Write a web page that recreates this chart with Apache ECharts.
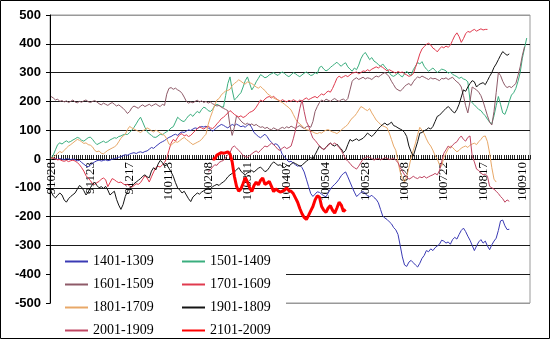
<!DOCTYPE html>
<html>
<head>
<meta charset="utf-8">
<script src="https://cdn.jsdelivr.net/npm/echarts/dist/echarts.min.js"></script>
<style>
html,body{margin:0;padding:0;background:#fff;}
#chart{width:550px;height:339px;}
</style>
</head>
<body>
<div id="chart"></div>
<script>
// Trading-day axis: weekdays from 2009-10-28, exchange holidays skipped.
const firstDay = '2009-10-28';
const dayCount = 220;
const holidays = ['2010-01-01','2010-02-15','2010-02-16','2010-02-17','2010-02-18','2010-02-19',
  '2010-04-05','2010-05-03','2010-06-14','2010-06-15','2010-06-16'];

// Spread series (start = index of first trading day with a value)
const s1401 = [
  0, 3, 1, -2, 2, -1, -3, 1, 0, -2,
  0, -3, -6, -5, -12, -18, -24, -27, -21, -15,
  -10, -6, -4, -7, -5, -3, -6, -4, -1, 1,
  3, 6, 8, 12, 15, 13, 17, 20, 22, 19,
  23, 25, 22, 26, 28, 34, 40, 37, 44, 50,
  56, 60, 64, 70, 75, 78, 83, 86, 82, 90,
  94, 92, 97, 101, 99, 104, 108, 106, 110, 113,
  111, 114, 108, 103, 97, 102, 110, 115, 120, 117,
  112, 108, 114, 120, 116, 121, 117, 112, 115, 110,
  118, 121, 108, 92, 85, 78, 74, 80, 86, 78,
  66, 58, 50, 53, 48, 35, 15, 8, -2, -10,
  -8, -14, -20, -25, -22, -30, -45, -70, -95, -120,
  -130, -122, -114, -116, -122, -128, -131, -118, -105, -95,
  -88, -80, -70, -58, -50, -45, -62, -80, -98, -115,
  -130, -124, -116, -113, -120, -128, -131, -126, -134, -140,
  -152, -175, -198, -205, -210, -218, -225, -238, -246, -262,
  -300, -340, -368, -373, -358, -352, -360, -368, -375, -362,
  -345, -335, -318, -322, -312, -318, -308, -302, -296, -282,
  -285, -292, -288, -296, -280, -272, -278, -262, -248, -240,
  -252, -268, -282, -300, -318, -302, -288, -280, -292, -285,
  -302, -315, -298, -285, -275, -248, -215, -212, -232, -245, -244
];
const s1501 = [
  2, 14, 32, 50, 56, 52, 58, 63, 58, 61,
  66, 70, 75, 72, 65, 62, 68, 74, 76, 68,
  58, 50, 54, 58, 62, 57, 60, 66, 70, 74,
  72, 78, 80, 84, 86, 85, 92, 100, 110, 122,
  135, 145, 128, 110, 95, 88, 82, 76, 75, 80,
  86, 84, 90, 95, 100, 108, 112, 128, 145, 138,
  132, 130, 140, 150, 155, 148, 158, 165, 160, 172,
  180, 176, 168, 165, 172, 185, 190, 186, 182, 180,
  220, 262, 285, 240, 205, 212, 222, 230, 250, 272,
  285, 262, 240, 252, 268, 280, 293, 288, 282, 285,
  292, 296, 300, 294, 290, 298, 302, 297, 290, 286,
  292, 300, 296, 290, 286, 292, 298, 302, 296, 290,
  292, 300, 296, 318, 322, 312, 306, 310, 318, 324,
  330, 336, 328, 322, 330, 334, 320, 312, 305, 316,
  310, 326, 348, 362, 370, 358, 345, 352, 340, 335,
  328, 322, 330, 320, 312, 300, 290, 287, 292, 298,
  290, 285, 296, 305, 295, 290, 310, 322, 335, 330,
  338, 322, 312, 305, 310, 316, 308, 300, 306, 312,
  310, 306, 298, 302, 294, 290, 286, 280, 284, 278,
  275, 268, 205, 195, 188, 180, 172, 168, 158, 150,
  138, 128, 122, 150, 185, 217, 190, 160, 155, 175,
  200, 222, 230, 245, 270, 300, 350, 385, 420
];
const s1601 = [
  217, 212, 205, 208, 200, 203, 198, 202, 196, 200,
  205, 198, 195, 200, 197, 202, 205, 199, 196, 200,
  203, 198, 192, 188, 194, 190, 186, 192, 196, 190,
  184, 188, 182, 176, 168, 158, 165, 178, 184, 180,
  176, 184, 188, 182, 186, 190, 184, 188, 192, 186,
  182, 190, 186, 225, 245, 248, 242, 246, 240, 236,
  228, 215, 200, 194, 198, 195, 200, 204, 198, 202,
  196, 200, 194, 198, 192, 188, 184, 186, 180, 176,
  172, 168, 115, 82, 110, 150, 142, 132, 125, 120,
  124, 118, 122, 116, 120, 114, 110, 112, 106, 110,
  104, 102, 108, 104, 100, 106, 110, 106, 112, 108,
  114, 110, 106, 112, 116, 110, 106, 112, 115, 110,
  130, 165, 182, 196, 205, 200, 208, 204, 200, 206,
  210, 204, 200, 206, 208, 202, 210, 240, 270, 278,
  282, 276, 280, 284, 278, 282, 280, 276, 283, 288,
  285, 290, 296, 300, 294, 285, 270, 258, 245, 240,
  236, 242, 252, 258, 262, 255, 268, 278, 285, 282,
  288, 284, 280, 276, 282, 278, 280, 276, 272, 280,
  278, 282, 276, 280, 284, 275, 268, 262, 250, 220,
  185, 160, 200, 250, 245, 240, 232, 220, 200, 175,
  150, 128, 118, 165, 230, 300, 290, 270, 255, 248,
  252, 248, 255, 262, 290, 320, 360, 390
];
const s1701 = [
  5, 2, 0, -3, -2, -6, -8, -5, -9, -6,
  -4, -7, -12, -20, -30, -42, -58, -66, -75, -86,
  -88, -82, -78, -70, -66, -72, -96, -82, -68, -72,
  -78, -82, -80, -86, -90, -88, -94, -98, -92, -86,
  -88, -82, -70, -58, -66, -80, -62, -45, -30, -25,
  -28, -20, -12, 2, 30, 55, 68, 62, 75, 85,
  88, 80, 84, 78, 82, 90, 98, 105, 112, 108,
  104, 110, 114, 108, 106, 112, 122, 130, 140, 145,
  152, 160, 168, 162, 155, 150, 146, 150, 144, 148,
  155, 162, 165, 170, 180, 192, 205, 200, 208, 214,
  217, 212, 218, 210, 205, 200, 206, 202, 198, 204,
  200, 206, 202, 198, 205, 200, 208, 212, 206, 210,
  214, 217, 212, 220, 226, 222, 230, 236, 232, 245,
  262, 280, 288, 282, 286, 290, 286, 292, 298, 300,
  302, 296, 300, 306, 304, 310, 306, 312, 316, 320,
  316, 322, 318, 312, 306, 310, 306, 302, 298, 304,
  300, 302, 296, 292, 287, 290, 296, 318, 340, 365,
  382, 390, 398, 402, 396, 385, 380, 372, 382, 390,
  386, 392, 388, 395, 412, 428, 438, 425, 405, 418,
  435, 443, 440, 446, 450, 444, 448, 452, 448, 450, 450
];
const s1801 = [
  0, 5, 12, 20, 26, 22, 30, 38, 45, 50,
  56, 62, 68, 65, 60, 54, 56, 50, 48, 42,
  30, 25, 28, 20, 18, 24, 30, 34, 38, 42,
  48, 60, 72, 80, 86, 102, 113, 108, 104, 100,
  96, 92, 98, 102, 108, 104, 98, 94, 100, 96,
  90, 86, 82, 70, 52, 48, 55, 60, 58, 64,
  70, 75, 68, 62, 56, 50, 54, 58, 62, 68,
  78, 86, 120, 145, 165, 188, 205, 210, 222, 230,
  236, 238, 242, 255, 262, 268, 275, 270, 264, 260,
  268, 265, 262, 256, 250, 246, 252, 244, 238, 228,
  222, 217, 212, 208, 205, 200, 196, 190, 184, 178,
  170, 155, 140, 128, 122, 115, 108, 102, 100, 96,
  94, 90, 88, 92, 90, 96, 100, 102, 98, 94,
  92, 88, 94, 100, 108, 113, 120, 132, 142, 148,
  158, 170, 182, 178, 172, 168, 175, 160, 148, 135,
  128, 120, 115, 112, 108, 90, 68, 45, 30, -10,
  -45, -68, -80, -60, -30, 5, 30, 55, 85, 110,
  100, 88, 70, 55, 45, 30, 12, 0, -20, -25,
  5, 20, 35, 45, 40, 32, 25, 30, 38, 42,
  45, 40, 48, 52, 55, 50, 60, 68, 78, 80,
  60, 20, -30, -70, -80
];
const s1901 = [
  -113, -128, -135, -126, -118, -125, -142, -150, -138, -130,
  -124, -118, -105, -92, -98, -110, -125, -115, -100, -88,
  -80, -92, -100, -96, -102, -95, -108, -125, -118, -112,
  -140, -160, -175, -158, -130, -112, -100, -95, -86, -80,
  -74, -68, -60, -55, -62, -65, -42, -30, -38, -18,
  -5, -12, -25, -20, -32, -45, -60, -82, -100, -108,
  -118, -112, -125, -138, -148, -132, -125, -118, -122, -115,
  -110, -106, -100, -104, -96, -92, -88, -92, -84, -80,
  -72, -62, -55, -50, -45, -38, -30, -42, -50, -55,
  -48, -45, -40, -46, -38, -32, -28, -36, -44, -40,
  -30, -18, -10, -16, -22, -20, -26, -30, -22, -25,
  -18, -12, -16, -20, -25, -22, -14, -8, -2, 5,
  0, 15, 30, 45, 38, 33, 40, 50, 55, 48,
  45, 52, 42, 35, 22, 30, 50, 68, 62, 66,
  70, 64, 68, 72, 80, 90, 84, 78, 86, 95,
  105, 113, 120, 125, 118, 122, 128, 116, 113, 108,
  104, 100, 92, 78, 45, 25, 10, 35, 60, 90,
  92, 98, 102, 108, 104, 113, 130, 148, 152, 160,
  168, 176, 182, 175, 165, 160, 172, 190, 215, 240,
  235, 250, 262, 272, 268, 250, 258, 262, 265, 258,
  272, 287, 300, 318, 330, 345, 360, 373, 366, 360, 365
];
const s2001Start = 72;
const s2001 = [
  -45, -38, -28, -20, -22, -12, -8, -5,
  5, 15, 22, 40, 45, 38, 30, 22, 12, 8,
  6, 12, 18, 24, 28, 22, 30, 38, 45, 42,
  48, 55, 50, 42, 33, 30, 38, 42, 36, 40,
  45, 70, 100, 137, 175, 205, 165, 130, 115, 92,
  72, 65, 55, 45, 38, 33, 40, 48, 55, 50,
  56, 48, 40, 30, 15, 0, -8, -15, -25, -30,
  -35, -25, -12, 0, 4, 8, 5, 2, -4, 0,
  2, -3, 0, 5, 2, -2, 0, 3, -5, -12,
  -30, -42, -55, -62, -70, -66, -60, -65, -68, -62,
  -65, -60, -66, -62, -58, -55, -50, -55, -40, -10,
  20, 32, 45, 38, 48, 55, 60, 72, 80, 68,
  62, 75, 80, 10, -10, -35, -40, -48, -55, -52,
  -60, -95, -100, -105, -112, -120, -130, -138, -150, -142, -147
];
const s2101Start = 74;
const s2101 = [
  0, 0, 14, 18, 22, 20,
  22, 25, 18, -10, -60, -95, -112, -104, -85, -65,
  -80, -100, -113, -92, -80, -90, -74, -66, -88, -84,
  -78, -95, -113, -104, -110, -115, -112, -108, -100, -110,
  -112, -120, -135, -150, -172, -190, -203, -210, -196, -180,
  -165, -142, -128, -132, -165, -178, -185, -170, -162, -178,
  -188, -170, -150, -160, -182, -175
];

function tradingDays(start, count, closed) {
  const out = [];
  const d = new Date(start + 'T00:00:00Z');
  while (out.length < count) {
    const wd = d.getUTCDay();
    const iso = d.toISOString().slice(0, 10);
    if (wd !== 0 && wd !== 6 && closed.indexOf(iso) < 0) {
      const yy = d.getUTCFullYear() - 2000;
      const mm = String(d.getUTCMonth() + 1).padStart(2, '0');
      const dd = String(d.getUTCDate()).padStart(2, '0');
      out.push(String(yy) + mm + dd);
    }
    d.setUTCDate(d.getUTCDate() + 1);
  }
  return out;
}
const dates = tradingDays(firstDay, dayCount, holidays);

const seriesDefs = [
  { name: '1401-1309', start: 0, values: s1401, color: '#3a3ab4', width: 1 },
  { name: '1501-1409', start: 0, values: s1501, color: '#3aae7e', width: 1 },
  { name: '1601-1509', start: 0, values: s1601, color: '#8e5a68', width: 1 },
  { name: '1701-1609', start: 0, values: s1701, color: '#e03a4e', width: 1 },
  { name: '1801-1709', start: 0, values: s1801, color: '#e8a868', width: 1 },
  { name: '1901-1809', start: 0, values: s1901, color: '#141414', width: 1 },
  { name: '2001-1909', start: s2001Start, values: s2001, color: '#c04662', width: 1 },
  { name: '2101-2009', start: s2101Start, values: s2101, color: '#ff0000', width: 3 }
];

const gridColors = ['#999'];
for (let i = 0; i < 9; i++) gridColors.push('#1a1a1a');
gridColors.push('#999');

// plot box: value 500 at y=15, -500 at y=303; the date axis sits on the zero line
const plotTop = 15, plotHeight = 288;
const zeroShift = plotHeight / 2;

const chart = echarts.init(document.getElementById('chart'), null, { renderer: 'canvas' });
chart.setOption({
  animation: false,
  backgroundColor: '#ffffff',
  grid: { left: 50, right: 20, top: plotTop, height: plotHeight, show: true, borderColor: '#999', borderWidth: 1,
    containLabel: false, outerBoundsMode: 'none' },
  xAxis: {
    type: 'category',
    data: dates,
    boundaryGap: true,
    position: 'bottom',
    offset: -zeroShift,
    axisLine: { onZero: false, lineStyle: { color: '#000', width: 1 } },
    axisTick: { show: true, interval: 0, inside: true, length: 4, lineStyle: { color: '#222', width: 1 } },
    axisLabel: { interval: 17, rotate: 90, margin: 3, color: '#000',
      fontFamily: 'Liberation Serif', fontSize: 13 },
    splitLine: { show: false }
  },
  yAxis: {
    type: 'value', min: -500, max: 500, interval: 100,
    axisLine: { show: true, lineStyle: { color: '#000', width: 1 } },
    axisTick: { show: true, length: 4, lineStyle: { color: '#000' } },
    axisLabel: { margin: 9, color: '#000', fontFamily: 'Liberation Sans', fontWeight: 'bold', fontSize: 13 },
    splitLine: { show: true, lineStyle: { color: gridColors, width: 1 } }
  },
  legend: {
    data: seriesDefs.map(d => d.name),
    orient: 'horizontal',
    left: 64, top: 250, width: 240,
    padding: 0, itemGap: 0, itemWidth: 23, itemHeight: 14,
    itemStyle: { opacity: 0 },
    textStyle: { fontFamily: 'Liberation Serif', fontSize: 14, color: '#000', width: 88, lineHeight: 23 },
    selectedMode: false
  },
  graphic: [
    { type: 'rect', z: 1, silent: true, shape: { x: 51, y: 249, width: 235, height: 90 }, style: { fill: '#fff' } },
    { type: 'rect', z: 100, silent: true, shape: { x: 0.5, y: 0.5, width: 549, height: 338 },
      style: { fill: 'none', stroke: '#000', lineWidth: 1 } }
  ],
  series: seriesDefs.map((d, i) => ({
    name: d.name,
    type: 'line',
    data: new Array(d.start).fill(null).concat(d.values),
    symbol: 'none',
    showSymbol: false,
    connectNulls: false,
    lineStyle: { color: d.color, width: d.width },
    itemStyle: { color: d.color },
    emphasis: { disabled: true },
    z: 2 + i * 0.01
  }))
});
</script>
</body>
</html>
